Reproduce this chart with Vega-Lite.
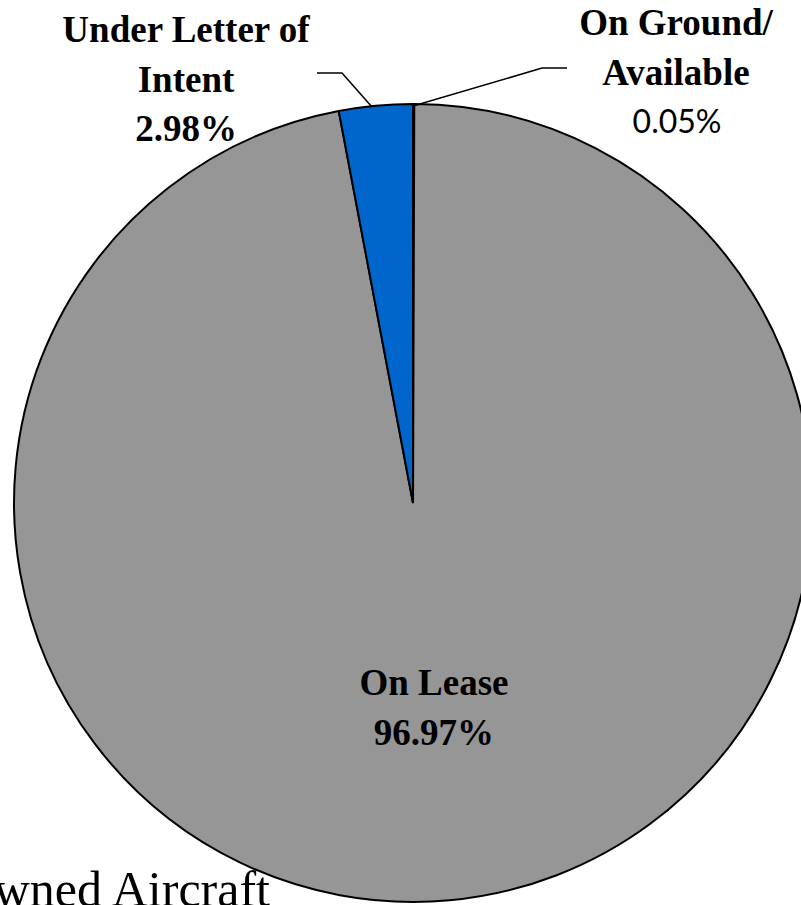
{
  "$schema": "https://vega.github.io/schema/vega-lite/v6.json",
  "width": 801,
  "height": 905,
  "autosize": {"type": "none"},
  "padding": 0,
  "background": "white",
  "view": {"stroke": null},
  "datasets": {
    "slices": [
      {"category": "On Ground/Available", "value": 0.05, "ord": 1},
      {"category": "On Lease", "value": 96.97, "ord": 2},
      {"category": "Under Letter of Intent", "value": 2.98, "ord": 3}
    ],
    "labels": [
      {"kind": "bold", "text": "Under Letter of\nIntent\n2.98%", "x": -56.89, "y": 115.54},
      {"kind": "bold", "text": "On Ground/\nAvailable", "x": 65.91, "y": 117.29},
      {"kind": "sans", "text": "0.05%", "x": 66.17, "y": 92.73},
      {"kind": "bold", "text": "On Lease\n96.97%", "x": 5.26, "y": -48.12},
      {"kind": "title", "text": "Owned Aircraft", "x": -35.84, "y": -101.0}
    ],
    "leaders": [
      {"leader": "loi", "step": 1, "x": -24.06, "y": 107.77},
      {"leader": "loi", "step": 2, "x": -17.79, "y": 107.77},
      {"leader": "loi", "step": 3, "x": -10.28, "y": 99.25},
      {"leader": "ground", "step": 1, "x": 0, "y": 99.5},
      {"leader": "ground", "step": 2, "x": 32.33, "y": 109.0},
      {"leader": "ground", "step": 3, "x": 38.6, "y": 109.0}
    ]
  },
  "layer": [
    {
      "data": {"name": "slices"},
      "mark": {"type": "arc", "radius": 399, "stroke": "black", "strokeWidth": 2},
      "encoding": {
        "theta": {"field": "value", "type": "quantitative", "stack": true},
        "order": {"field": "ord", "type": "quantitative"},
        "color": {
          "field": "category",
          "type": "nominal",
          "scale": {
            "domain": ["On Ground/Available", "On Lease", "Under Letter of Intent"],
            "range": ["#969696", "#969696", "#0066CC"]
          },
          "legend": null
        },
        "x": {"datum": 0, "type": "quantitative", "scale": {"domain": [-103.51, 97.24], "nice": false, "zero": false}, "axis": null},
        "y": {"datum": 0, "type": "quantitative", "scale": {"domain": [-100.75, 126.07], "nice": false, "zero": false}, "axis": null}
      }
    },
    {
      "data": {"name": "leaders"},
      "mark": {"type": "line", "stroke": "black", "strokeWidth": 1.5},
      "encoding": {
        "x": {"field": "x", "type": "quantitative"},
        "y": {"field": "y", "type": "quantitative"},
        "detail": {"field": "leader"},
        "order": {"field": "step", "type": "quantitative"}
      }
    },
    {
      "data": {"name": "labels"},
      "transform": [{"filter": "datum.kind === 'bold'"}],
      "mark": {"type": "text", "font": "Liberation Serif", "fontWeight": "bold", "fontSize": 37, "lineHeight": 49.5, "lineBreak": "\n", "align": "center", "baseline": "alphabetic", "color": "black"},
      "encoding": {
        "x": {"field": "x", "type": "quantitative"},
        "y": {"field": "y", "type": "quantitative"},
        "text": {"field": "text"}
      }
    },
    {
      "data": {"name": "labels"},
      "transform": [{"filter": "datum.kind === 'sans'"}],
      "mark": {"type": "text", "font": "Lato", "fontSize": 32, "align": "center", "baseline": "alphabetic", "color": "black"},
      "encoding": {
        "x": {"field": "x", "type": "quantitative"},
        "y": {"field": "y", "type": "quantitative"},
        "text": {"field": "text"}
      }
    },
    {
      "data": {"name": "labels"},
      "transform": [{"filter": "datum.kind === 'title'"}],
      "mark": {"type": "text", "font": "Liberation Serif", "fontSize": 50, "align": "right", "baseline": "alphabetic", "color": "black"},
      "encoding": {
        "x": {"field": "x", "type": "quantitative"},
        "y": {"field": "y", "type": "quantitative"},
        "text": {"field": "text"}
      }
    }
  ]
}
